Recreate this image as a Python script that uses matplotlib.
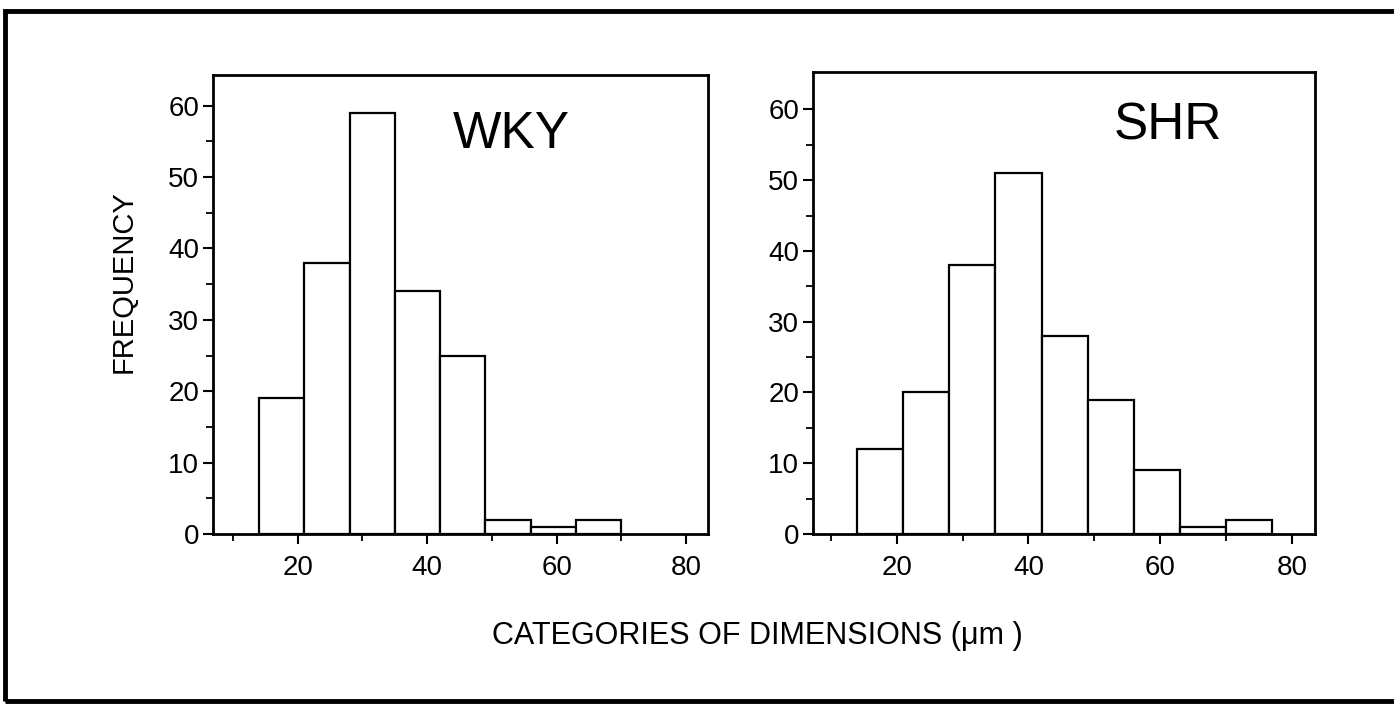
import numpy as np
import matplotlib.pyplot as plt
from matplotlib.patches import Rectangle

plt.rcParams['font.family'] = ['Liberation Sans', 'DejaVu Sans']

# bin edges (um) and counts
wky_edges = [14, 21, 28, 35, 42, 49, 56, 63, 70]
wky_counts = [19, 38, 59, 34, 25, 2, 1, 2]
shr_edges = [14, 21, 28, 35, 42, 49, 56, 63, 70, 77]
shr_counts = [12, 20, 38, 51, 28, 19, 9, 1, 2]
y_ticks = [0, 10, 20, 30, 40, 50, 60]
x_ticks = [20, 40, 60, 80]

W, H = 1394, 708
fig = plt.figure(figsize=(W / 100, H / 100), dpi=100)
fig.patch.set_facecolor("white")


def px_axes(left, top, right, bottom):
    # axes placed from pixel edges of the reference
    return fig.add_axes([left / W, (H - bottom) / H, (right - left) / W, (bottom - top) / H])


def histo(ax, edges, counts, name, xlim, ylim, label_xy):
    edges = np.array(edges)
    ax.bar(edges[:-1], counts, width=np.diff(edges), align="edge",
           facecolor="white", edgecolor="black", linewidth=1.6, zorder=2)
    ax.set_xlim(*xlim)
    ax.set_ylim(*ylim)
    ax.set_xticks(x_ticks)
    ax.set_xticks([10, 30, 50, 70], minor=True)
    ax.set_yticks(y_ticks)
    ax.set_yticks([5, 15, 25, 35, 45, 55], minor=True)
    ax.tick_params(which="major", direction="out", length=7, width=1.5, labelsize=20)
    ax.tick_params(axis="x", which="major", pad=8)
    ax.tick_params(axis="y", which="major", pad=3)
    ax.tick_params(which="minor", direction="out", length=5, width=1.3)
    for s in ax.spines.values():
        s.set_linewidth(2)
    ax.text(label_xy[0], label_xy[1], name, transform=ax.transAxes,
            fontsize=37, ha="center", va="center")


ax1 = px_axes(213, 75, 708, 534)
histo(ax1, wky_edges, wky_counts, "WKY", (6.9, 83.4), (0, 64.3), (0.602, 0.871))

ax2 = px_axes(813, 72, 1315, 534)
histo(ax2, shr_edges, shr_counts, "SHR", (7.3, 83.5), (0, 65.3), (0.707, 0.883))

fig.text(124 / W, 1 - 282 / H, "FREQUENCY", rotation=90, fontsize=21,
         ha="center", va="center")
fig.text(757 / W, 1 - 636 / H, "CATEGORIES OF DIMENSIONS (\u03bcm )", fontsize=22,
         ha="center", va="center")

# outer frame, open on the right like the scanned page
fig.patches.append(Rectangle((5 / W, 7 / H), (W + 10) / W, 690 / H, transform=fig.transFigure,
                             fill=False, edgecolor="black", linewidth=3.5))

fig.savefig("out.png", dpi=100)
